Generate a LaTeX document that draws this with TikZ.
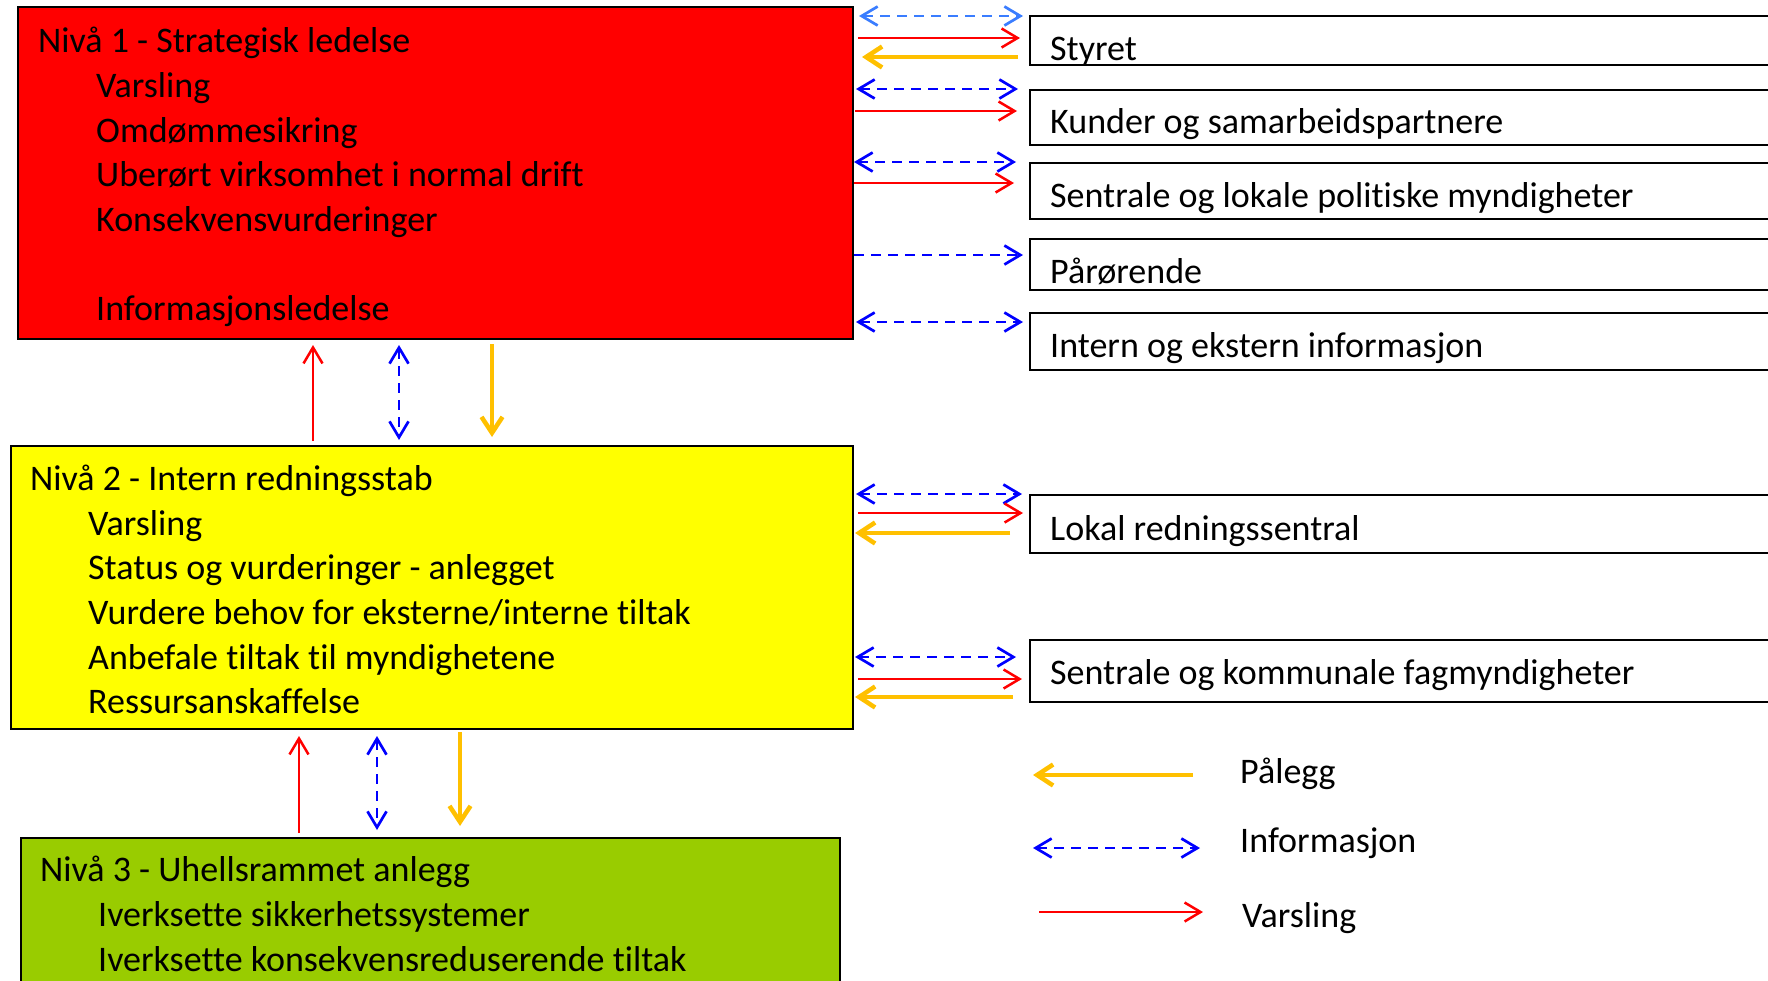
\documentclass[tikz,border=0pt]{standalone}
\usepackage{fontspec}
\setmainfont{Carlito}[Ligatures={NoCommon,NoRare,NoContextual}, Contextuals={NoAlternate}, RawFeature={-liga;-clig;-calt;-dlig}]
\usetikzlibrary{arrows.meta}
\definecolor{yel}{RGB}{255,192,0}
\definecolor{lgreen}{RGB}{153,204,0}
\definecolor{lblue}{RGB}{58,125,255}
\definecolor{pyellow}{RGB}{255,255,0}
\begin{document}
\begin{tikzpicture}[x=1pt,y=-1pt,
  box/.style={draw=black, line width=2pt, anchor=north west, inner sep=0pt},
  rbox/.style={box, fill=white, minimum width=770pt},
  txt/.style={anchor=base west, inner sep=0pt, font=\fontsize{36}{44}\selectfont},
  barb/.tip={Straight Barb[length=16pt,width=19pt]},
  varsl/.style={draw=red, line width=2.5pt, -barb},
  info/.style={draw=blue, line width=2.7pt, dash pattern=on 10pt off 7pt, barb-barb},
  infor/.style={draw=blue, line width=2.7pt, dash pattern=on 10pt off 7pt, -barb},
  paleg/.style={draw=yel, line width=4.5pt, -{Straight Barb[length=16pt,width=21pt]}}]

\useasboundingbox (0,0) rectangle (1768,980);
\clip (0,0) rectangle (1768,980);

% main boxes
\node[box, fill=red, minimum width=835pt, minimum height=332pt] (n1) at (17,6) {};
\node[box, fill=pyellow, minimum width=842pt, minimum height=283pt] (n2) at (10,445) {};
\node[box, fill=lgreen, minimum width=819pt, minimum height=200pt] (n3) at (20,837) {};

% main box texts
\node[txt] (r0) at (38,52) {Nivå 1 - Strategisk ledelse};
\node[txt] (r1) at (96,97) {Varsling};
\node[txt] (r2) at (96,142) {Omdømmesikring};
\node[txt] (r3) at (96,186) {Uberørt virksomhet i normal drift};
\node[txt] (r4) at (96,231) {Konsekvensvurderinger};
\node[txt] (r5) at (96,320) {Informasjonsledelse};

\node[txt] (y0) at (30,490) {Nivå 2 - Intern redningsstab};
\node[txt] (y1) at (88,535) {Varsling};
\node[txt] (y2) at (88,579) {Status og vurderinger - anlegget};
\node[txt] (y3) at (88,624) {Vurdere behov for eksterne/interne tiltak};
\node[txt] (y4) at (88,669) {Anbefale tiltak til myndighetene};
\node[txt] (y5) at (88,713) {Ressursanskaffelse};

\node[txt] (g0) at (40,881) {Nivå 3 - Uhellsrammet anlegg};
\node[txt] (g1) at (98,926) {Iverksette sikkerhetssystemer};
\node[txt] (g2) at (98,971) {Iverksette konsekvensreduserende tiltak};

% right boxes
\node[rbox, minimum height=49pt] (styret) at (1029,15) {};
\node[rbox, minimum height=55pt] (kunder) at (1029,89) {};
\node[rbox, minimum height=56pt] (sentlok) at (1029,162) {};
\node[rbox, minimum height=51pt] (paar) at (1029,238) {};
\node[rbox, minimum height=57pt] (intern) at (1029,312) {};
\node[rbox, minimum height=58pt] (lokal) at (1029,494) {};
\node[rbox, minimum height=62pt] (sentkom) at (1029,639) {};

\node[txt] (s1) at (1050,60) {Styret};
\node[txt] (s2) at (1050,133) {Kunder og samarbeidspartnere};
\node[txt] (s3) at (1050,207) {Sentrale og lokale politiske myndigheter};
\node[txt] (s4) at (1050,283) {Pårørende};
\node[txt] (s5) at (1050,357) {Intern og ekstern informasjon};
\node[txt] (s6) at (1050,540) {Lokal redningssentral};
\node[txt] (s7) at (1050,684) {Sentrale og kommunale fagmyndigheter};

% horizontal connectors: level 1
\draw[info, draw=lblue, shorten <=5pt, shorten >=6pt] (n1.east |- 0,16) -- (styret.west |- 0,16);
\draw[varsl, shorten <=4pt, shorten >=9pt] (n1.east |- 0,38) -- (styret.west |- 0,38);
\draw[paleg, shorten <=11pt, shorten >=8pt] (styret.west |- 0,57) -- (n1.east |- 0,57);

\draw[info, shorten <=2pt, shorten >=11pt] (n1.east |- 0,89) -- (kunder.west |- 0,89);
\draw[varsl, shorten <=1pt, shorten >=12pt] (n1.east |- 0,111) -- (kunder.west |- 0,111);

\draw[info, shorten <=0pt, shorten >=13pt] (n1.east |- 0,162) -- (sentlok.west |- 0,162);
\draw[varsl, shorten <=0pt, shorten >=15pt] (n1.east |- 0,183) -- (sentlok.west |- 0,183);

\draw[infor, shorten <=0pt, shorten >=6pt] (n1.east |- 0,255) -- (paar.west |- 0,255);

\draw[info, shorten <=2pt, shorten >=6pt] (n1.east |- 0,322) -- (intern.west |- 0,322);

% horizontal connectors: level 2
\draw[info, shorten <=2pt, shorten >=7pt] (n2.east |- 0,494) -- (lokal.west |- 0,494);
\draw[varsl, shorten <=4pt, shorten >=6pt] (n2.east |- 0,513) -- (lokal.west |- 0,513);
\draw[paleg, shorten <=19pt, shorten >=1pt] (lokal.west |- 0,533) -- (n2.east |- 0,533);

\draw[info, shorten <=1pt, shorten >=13pt] (n2.east |- 0,657) -- (sentkom.west |- 0,657);
\draw[varsl, shorten <=4pt, shorten >=7pt] (n2.east |- 0,679) -- (sentkom.west |- 0,679);
\draw[paleg, shorten <=16pt, shorten >=1pt] (sentkom.west |- 0,697) -- (n2.east |- 0,697);

% vertical connectors
\draw[varsl, shorten <=4pt, shorten >=5pt] (n2.north -| 313,0) -- (n1.south -| 313,0);
\draw[info, shorten <=5pt, shorten >=5pt] (n1.south -| 399,0) -- (n2.north -| 399,0);
\draw[paleg, shorten <=4pt, shorten >=8pt] (n1.south -| 492,0) -- (n2.north -| 492,0);

\draw[varsl, shorten <=4pt, shorten >=6pt] (n3.north -| 299,0) -- (n2.south -| 299,0);
\draw[info, shorten <=6pt, shorten >=7pt] (n2.south -| 377,0) -- (n3.north -| 377,0);
\draw[paleg, shorten <=2pt, shorten >=11pt] (n2.south -| 460,0) -- (n3.north -| 460,0);

% legend
\coordinate (lp1) at (1193,775);
\coordinate (lp2) at (1033,775);
\coordinate (li1) at (1033,848);
\coordinate (li2) at (1200,848);
\coordinate (lv1) at (1039,912);
\coordinate (lv2) at (1203,912);
\draw[paleg] (lp1) -- (lp2);
\draw[info] (li1) -- (li2);
\draw[varsl] (lv1) -- (lv2);
\node[txt] (l1) at (1240,783) {Pålegg};
\node[txt] (l2) at (1240,852) {Informasjon};
\node[txt] (l3) at (1242,927) {Varsling};
\end{tikzpicture}
\end{document}
